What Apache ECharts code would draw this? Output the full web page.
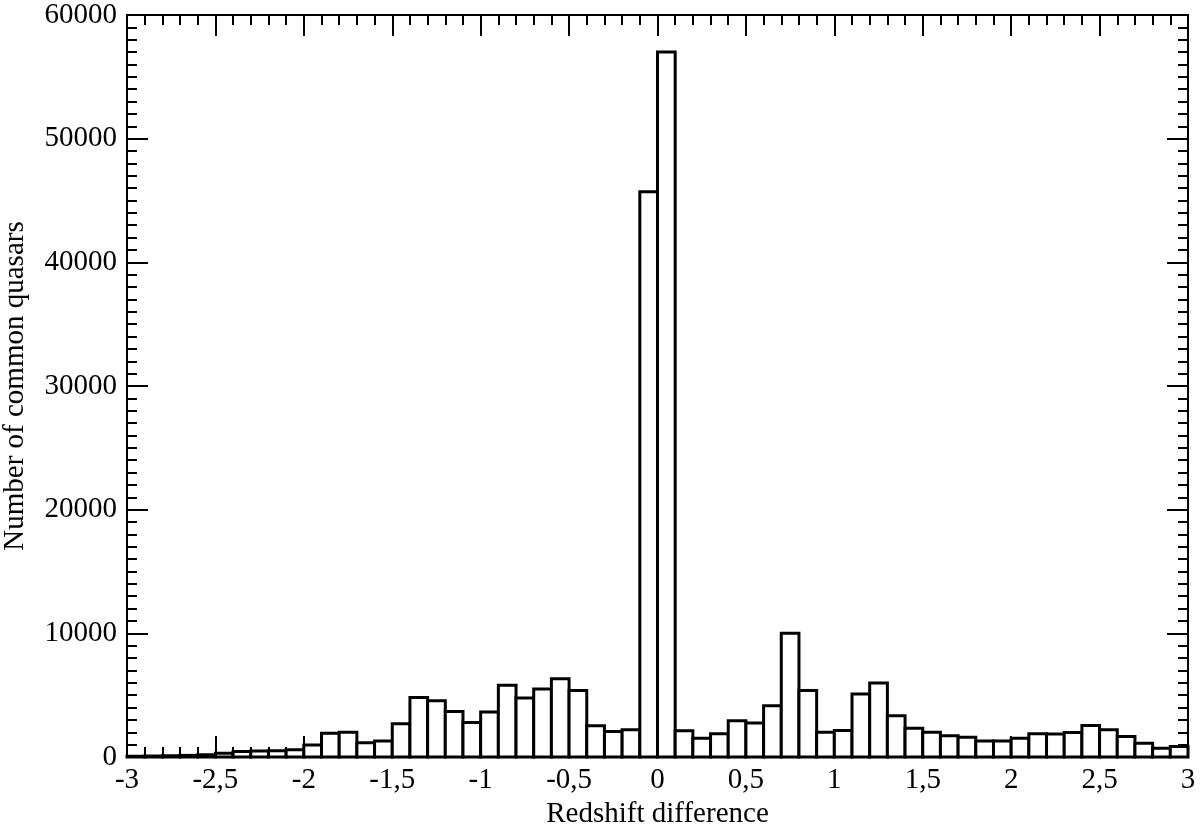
<!DOCTYPE html>
<html>
<head>
<meta charset="utf-8">
<script src="https://cdn.jsdelivr.net/npm/echarts@6/dist/echarts.min.js"></script>
<style>
html,body{margin:0;padding:0;background:#fff;}
#chart{width:1200px;height:830px;}
</style>
</head>
<body>
<div id="chart"></div>
<script>
// Left edges of histogram bins (bin width 0.1)
var binStarts = [-3.0,-2.9,-2.8,-2.7,-2.6,-2.5,-2.4,-2.3,-2.2,-2.1,
  -2.0,-1.9,-1.8,-1.7,-1.6,-1.5,-1.4,-1.3,-1.2,-1.1,
  -1.0,-0.9,-0.8,-0.7,-0.6,-0.5,-0.4,-0.3,-0.2,-0.1,
  0.0,0.1,0.2,0.3,0.4,0.5,0.6,0.7,0.8,0.9,
  1.0,1.1,1.2,1.3,1.4,1.5,1.6,1.7,1.8,1.9,
  2.0,2.1,2.2,2.3,2.4,2.5,2.6,2.7,2.8,2.9];
var binWidth = 0.1;
// Number of common quasars per bin
var counts = [60,80,100,130,180,300,450,480,500,580,
  980,1930,2010,1160,1300,2680,4820,4550,3680,2790,
  3630,5800,4770,5500,6320,5370,2520,2060,2200,45700,
  57000,2130,1520,1870,2930,2740,4150,10000,5370,2010,
  2140,5100,5990,3330,2330,2010,1710,1600,1300,1300,
  1520,1870,1850,1980,2550,2200,1650,1110,710,840];
var xTicks = {min:-3, max:3, interval:0.5};
var yTicks = {min:0, max:60000, interval:10000};

var data = binStarts.map(function(s,i){ return [s, s+binWidth, counts[i]]; });

var FONT = 'Liberation Serif';
var FS = 29;
function commaFmt(v){ return String(Math.round(v*10)/10).replace('.', ','); }
function plainFmt(v){ return String(Math.round(v)); }

var tickCommon = {inside:true, length:21, lineStyle:{color:'#000', width:2}};
var minorCommon = {show:true, length:10, lineStyle:{color:'#000', width:2}};
var lineCommon = {show:true, onZero:false, lineStyle:{color:'#000', width:2}};

var chart = echarts.init(document.getElementById('chart'), null, {renderer:'canvas'});
chart.setOption({
  backgroundColor:'#fff',
  animation:false,
  grid:{left:127, right:12, top:15, bottom:73, containLabel:false, outerBoundsMode:'none'},
  xAxis:[{
    type:'value', min:xTicks.min, max:xTicks.max, interval:xTicks.interval,
    position:'bottom',
    axisLine:lineCommon,
    axisTick:tickCommon,
    minorTick:Object.assign({splitNumber:5}, minorCommon),
    splitLine:{show:false},
    axisLabel:{color:'#000', fontFamily:FONT, fontSize:FS, margin:9, formatter:commaFmt},
    name:'Redshift difference', nameLocation:'middle', nameGap:42,
    nameTextStyle:{color:'#000', fontFamily:FONT, fontSize:FS}
  },{
    type:'value', min:xTicks.min, max:xTicks.max, interval:xTicks.interval,
    position:'top',
    axisLine:lineCommon,
    axisTick:tickCommon,
    minorTick:Object.assign({splitNumber:5}, minorCommon),
    splitLine:{show:false},
    axisLabel:{show:false}
  }],
  yAxis:[{
    type:'value', min:yTicks.min, max:yTicks.max, interval:yTicks.interval,
    position:'left',
    axisLine:lineCommon,
    axisTick:tickCommon,
    minorTick:Object.assign({splitNumber:10}, minorCommon),
    splitLine:{show:false},
    axisLabel:{color:'#000', fontFamily:FONT, fontSize:FS, margin:10, formatter:plainFmt},
    name:'Number of common quasars', nameLocation:'middle', nameGap:97,
    nameTextStyle:{color:'#000', fontFamily:FONT, fontSize:FS}
  },{
    type:'value', min:yTicks.min, max:yTicks.max, interval:yTicks.interval,
    position:'right',
    axisLine:lineCommon,
    axisTick:tickCommon,
    minorTick:Object.assign({splitNumber:10}, minorCommon),
    splitLine:{show:false},
    axisLabel:{show:false}
  }],
  series:[{
    type:'custom',
    xAxisIndex:0, yAxisIndex:0,
    data:data,
    encode:{x:[0,1], y:2},
    renderItem:function(params, api){
      var p0 = api.coord([api.value(0), api.value(2)]);
      var p1 = api.coord([api.value(1), 0]);
      return {
        type:'rect',
        shape:{x:p0[0], y:p0[1], width:p1[0]-p0[0], height:p1[1]-p0[1]},
        style:{fill:'#fff', stroke:'#000', lineWidth:3}
      };
    }
  }]
});
</script>
</body>
</html>
